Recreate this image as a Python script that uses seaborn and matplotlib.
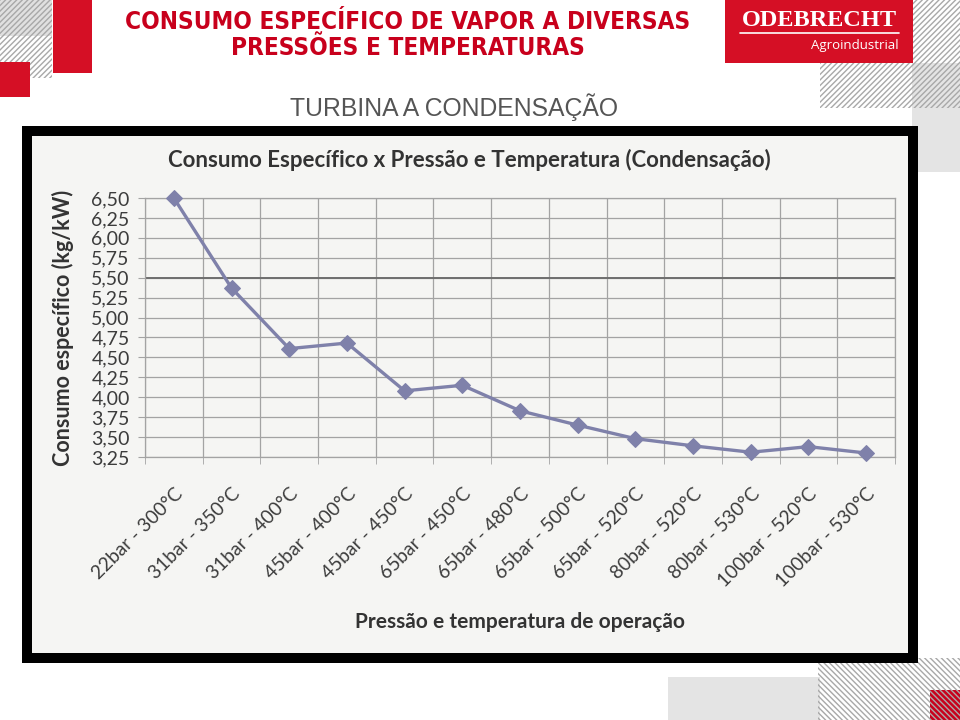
import numpy as np
import pandas as pd
import matplotlib
matplotlib.use("Agg")
import matplotlib.pyplot as plt
import matplotlib.font_manager as fm
from matplotlib.font_manager import FontProperties
from matplotlib.patches import Rectangle
from matplotlib.lines import Line2D
import seaborn as sns

# ---- data ----
conditions = ["22bar - 300°C", "31bar - 350°C", "31bar - 400°C", "45bar - 400°C",
              "45bar - 450°C", "65bar - 450°C", "65bar - 480°C", "65bar - 500°C",
              "65bar - 520°C", "80bar - 520°C", "80bar - 530°C", "100bar - 520°C",
              "100bar - 530°C"]
consumo = [6.50, 5.37, 4.61, 4.68, 4.08, 4.15, 3.83, 3.65, 3.48, 3.39, 3.31, 3.38, 3.30]
yticks = [3.25, 3.50, 3.75, 4.00, 4.25, 4.50, 4.75, 5.00, 5.25, 5.50, 5.75, 6.00, 6.25, 6.50]
ytick_labels = ["3,25", "3,50", "3,75", "4,00", "4,25", "4,50", "4,75", "5,00",
                "5,25", "5,50", "5,75", "6,00", "6,25", "6,50"]

slide_title = "CONSUMO ESPECÍFICO DE VAPOR A DIVERSAS\nPRESSÕES E TEMPERATURAS"
slide_subtitle = "TURBINA A CONDENSAÇÃO"
chart_title = "Consumo Específico x Pressão e Temperatura (Condensação)"
y_label = "Consumo específico (kg/kW)"
x_label = "Pressão e temperatura de operação"

df = pd.DataFrame({"cond": conditions, "consumo": consumo})

sns.set_style("white")
plt.rcParams["hatch.linewidth"] = 1.0

# pick a condensed bold font for the slide title if one is installed
title_fp = None
title_size = 15.5
for f in fm.fontManager.ttflist:
    if f.name == "DejaVu Sans" and f.stretch == "condensed" and f.weight in ("bold", 700) \
            and f.style == "normal":
        title_fp = FontProperties(fname=f.fname)
        title_size = 17.5
        break
if title_fp is None:
    for f in fm.fontManager.ttflist:
        if f.name == "Liberation Sans Narrow" and f.weight in ("bold", 700) and f.style == "normal":
            title_fp = FontProperties(fname=f.fname)
            title_size = 19
            break
if title_fp is None:
    title_fp = FontProperties(family="Liberation Sans", weight="bold")

W, H = 960, 720
fig = plt.figure(figsize=(9.6, 7.2), dpi=100)
fig.patch.set_facecolor("white")

RED = "#d50f25"


def px(x, y):
    return x / W, 1 - y / H


def rect(x0, y0, x1, y1, **kw):
    r = Rectangle((x0 / W, 1 - y1 / H), (x1 - x0) / W, (y1 - y0) / H,
                  transform=fig.transFigure, **kw)
    fig.patches.append(r)
    return r


HATCH_C = "#a8a8a8"
# decorations top-left
rect(0, 0, 52, 36, facecolor="#e0e0e0", edgecolor="none", zorder=0)
rect(0, 0, 52, 78, facecolor="none", edgecolor=HATCH_C, hatch="/" * 6, linewidth=0, zorder=0.5)
rect(53, 0, 92, 73, facecolor=RED, edgecolor="none", zorder=1)
rect(0, 62, 30, 97, facecolor=RED, edgecolor="none", zorder=1)
# decorations top-right
rect(912, 63, 960, 172, facecolor="#e4e4e4", edgecolor="none", zorder=0)
rect(820, 0, 960, 108, facecolor="none", edgecolor=HATCH_C, hatch="/" * 6, linewidth=0, zorder=0.5)
rect(725, 0, 913, 63, facecolor=RED, edgecolor="none", zorder=1)
# decorations bottom
rect(668, 677, 820, 720, facecolor="#e4e4e4", edgecolor="none", zorder=0)
rect(930, 690, 960, 720, facecolor="#c8001c", edgecolor="none", zorder=0.4)
rect(818, 658, 960, 720, facecolor="none", edgecolor=HATCH_C, hatch="\\" * 6, linewidth=0, zorder=0.5)

# logo
fig.text(*px(819, 21), "ODEBRECHT", family="Liberation Serif", weight="bold",
         color="white", fontsize=17.5, ha="center", va="center", zorder=3)
fig.lines.append(Line2D([740 / W, 899 / W], [1 - 33 / H, 1 - 33 / H], transform=fig.transFigure,
                        color="white", linewidth=1.2, zorder=3))
fig.text(*px(899, 45), "Agroindustrial", family="Open Sans", color="white",
         fontsize=9.5, ha="right", va="center", zorder=3)

# slide titles
fig.text(*px(408, 35), slide_title, fontproperties=title_fp,
         color="#c8001c", fontsize=title_size, ha="center", va="center",
         linespacing=1.15, zorder=3)
fig.text(*px(454, 107), slide_subtitle, family="Liberation Sans", color="#555555",
         fontsize=17.8, ha="center", va="center", zorder=3)

# black frame and inner panel
rect(22, 126, 918, 663, facecolor="black", edgecolor="none", zorder=1)
rect(32, 136, 908, 653, facecolor="#f5f5f3", edgecolor="none", zorder=1.5)

# main axes
l, b = px(145, 457)
r_, t = px(895, 198)
ax = fig.add_axes([l, b, r_ - l, t - b], zorder=5)
ax.set_facecolor("none")

sns.lineplot(data=df, x="cond", y="consumo", sort=False, ax=ax, color="#7f81aa",
             linewidth=2.4, marker="D", markersize=8, markeredgecolor="#7f81aa",
             clip_on=False, zorder=10)

ax.set_xlim(-0.5, len(conditions) - 0.5)
ax.set_ylim(yticks[0], yticks[-1])
ax.set_yticks(yticks)
ax.set_yticklabels(ytick_labels)
ax.set_xticks(range(len(conditions)))
ax.set_xticklabels(conditions, rotation=45, ha="right", rotation_mode="anchor")
ax.set_xticks(np.arange(-0.5, len(conditions), 1), minor=True)

GRID = "#a3a3a3"
ax.grid(which="minor", axis="x", color=GRID, linewidth=0.9)
ax.grid(which="major", axis="y", color=GRID, linewidth=0.9)
ax.grid(which="major", axis="x", visible=False)
for sp in ax.spines.values():
    sp.set_visible(True)
    sp.set_color(GRID)
    sp.set_linewidth(0.9)
ax.axhline(5.50, color="#6e6e6e", linewidth=1.4, zorder=1)

ax.tick_params(axis="y", which="major", length=5, color=GRID, pad=6,
               labelsize=14, labelcolor="#3c3c3c", left=True)
ax.tick_params(axis="x", which="major", length=0, pad=20, labelsize=13.8, labelcolor="#3c3c3c")
ax.tick_params(axis="x", which="minor", length=5, color=GRID, bottom=True)
for lab in ax.get_yticklabels() + ax.get_xticklabels():
    lab.set_family("Lato")
ax.set_xlabel("")
ax.set_ylabel("")

fig.text(*px(469, 160), chart_title, family="Lato", weight="bold", color="#333333",
         fontsize=16, ha="center", va="center", zorder=6)
fig.text(*px(63, 328), y_label, family="Lato", weight="bold", color="#333333",
         fontsize=15.5, ha="center", va="center", rotation=90, zorder=6)
fig.text(*px(520, 622), x_label, family="Lato", weight="bold", color="#333333",
         fontsize=15, ha="center", va="center", zorder=6)

fig.savefig("out.png", dpi=100)
